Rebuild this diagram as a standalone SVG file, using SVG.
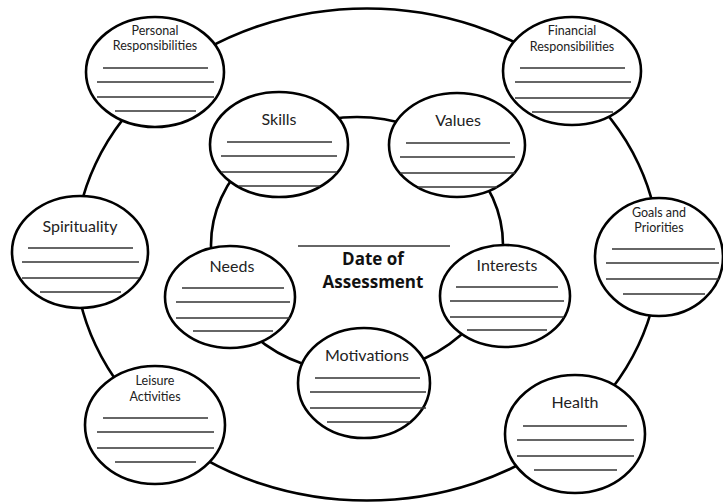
<svg xmlns="http://www.w3.org/2000/svg" width="723" height="503" viewBox="0 0 723 503">
<style>
.ring{fill:none;stroke:#000;stroke-width:2.6}
.node{fill:#fff;stroke:#000;stroke-width:2.6}
.ln{stroke:#333;stroke-width:1.5}
.t{font-family:Lato,"Open Sans",sans-serif;fill:#222;text-anchor:middle}
.big{font-size:16px}
.sm{font-size:12.5px}
.title{font-family:"Open Sans","Noto Sans",sans-serif;font-weight:bold;font-size:17px;fill:#111;text-anchor:middle}
</style>
<rect width="723" height="503" fill="#fff"/>
<g id="connectors">
<ellipse class="ring" cx="367" cy="254.5" rx="292" ry="246"/>
<ellipse class="ring" cx="357" cy="245" rx="146" ry="128"/>
</g>
<g id="personal">
<ellipse class="node" cx="155" cy="72" rx="69" ry="55"/>
<text class="t sm" x="155" y="35">Personal</text>
<text class="t sm" x="155" y="50">Responsibilities</text>
<line class="ln" x1="103" y1="68" x2="208" y2="68"/><line class="ln" x1="97" y1="82" x2="214" y2="82"/><line class="ln" x1="97" y1="97" x2="214" y2="97"/><line class="ln" x1="115" y1="111" x2="196" y2="111"/>
</g>
<g id="financial">
<ellipse class="node" cx="572" cy="71" rx="69" ry="54"/>
<text class="t sm" x="572" y="35">Financial</text>
<text class="t sm" x="572" y="51">Responsibilities</text>
<line class="ln" x1="520" y1="68" x2="625" y2="68"/><line class="ln" x1="515" y1="82" x2="631" y2="82"/><line class="ln" x1="515" y1="98" x2="631" y2="98"/><line class="ln" x1="532" y1="112" x2="613" y2="112"/>
</g>
<g id="goals">
<ellipse class="node" cx="659" cy="257" rx="64" ry="59"/>
<text class="t sm" x="659" y="217">Goals and</text>
<text class="t sm" x="659" y="232">Priorities</text>
<line class="ln" x1="612" y1="249" x2="715" y2="249"/><line class="ln" x1="606" y1="263" x2="719" y2="263"/><line class="ln" x1="606" y1="279" x2="719" y2="279"/><line class="ln" x1="623" y1="294" x2="705" y2="294"/>
</g>
<g id="spirituality">
<ellipse class="node" cx="80" cy="252" rx="68" ry="56"/>
<text class="t big" x="80" y="232">Spirituality</text>
<line class="ln" x1="28" y1="248" x2="133" y2="248"/><line class="ln" x1="22" y1="262" x2="139" y2="262"/><line class="ln" x1="22" y1="278" x2="139" y2="278"/><line class="ln" x1="40" y1="292" x2="121" y2="292"/>
</g>
<g id="leisure">
<ellipse class="node" cx="155" cy="425" rx="70" ry="59"/>
<text class="t sm" x="155" y="385">Leisure</text>
<text class="t sm" x="155" y="401">Activities</text>
<line class="ln" x1="103" y1="418" x2="208" y2="418"/><line class="ln" x1="97" y1="432" x2="214" y2="432"/><line class="ln" x1="97" y1="448" x2="214" y2="448"/><line class="ln" x1="115" y1="462" x2="196" y2="462"/>
</g>
<g id="health">
<ellipse class="node" cx="575" cy="434" rx="70" ry="59"/>
<text class="t big" x="575" y="408">Health</text>
<line class="ln" x1="523" y1="426" x2="627" y2="426"/><line class="ln" x1="517" y1="440" x2="634" y2="440"/><line class="ln" x1="517" y1="456" x2="634" y2="456"/><line class="ln" x1="534" y1="470" x2="617" y2="470"/>
</g>
<g id="skills">
<ellipse class="node" cx="279" cy="144.5" rx="69" ry="52.5"/>
<text class="t big" x="279" y="125">Skills</text>
<line class="ln" x1="227" y1="142" x2="332" y2="142"/><line class="ln" x1="221" y1="156" x2="337" y2="156"/><line class="ln" x1="221" y1="172" x2="337" y2="172"/><line class="ln" x1="239" y1="186" x2="320" y2="186"/>
</g>
<g id="values">
<ellipse class="node" cx="457" cy="145" rx="68" ry="52"/>
<text class="t big" x="458" y="126">Values</text>
<line class="ln" x1="406" y1="143" x2="510" y2="143"/><line class="ln" x1="400" y1="157" x2="515" y2="157"/><line class="ln" x1="400" y1="173" x2="515" y2="173"/><line class="ln" x1="418" y1="187" x2="497" y2="187"/>
</g>
<g id="needs">
<ellipse class="node" cx="230" cy="297" rx="65" ry="51"/>
<text class="t big" x="232" y="272">Needs</text>
<line class="ln" x1="182" y1="288" x2="284" y2="288"/><line class="ln" x1="176" y1="302" x2="290" y2="302"/><line class="ln" x1="176" y1="318" x2="290" y2="318"/><line class="ln" x1="193" y1="331" x2="273" y2="331"/>
</g>
<g id="interests">
<ellipse class="node" cx="505" cy="296" rx="65" ry="51"/>
<text class="t big" x="507" y="271">Interests</text>
<line class="ln" x1="456" y1="287" x2="558" y2="287"/><line class="ln" x1="450" y1="301" x2="564" y2="301"/><line class="ln" x1="450" y1="317" x2="564" y2="317"/><line class="ln" x1="467" y1="330" x2="547" y2="330"/>
</g>
<g id="motivations">
<ellipse class="node" cx="364" cy="383" rx="66" ry="55"/>
<text class="t big" x="367" y="361">Motivations</text>
<line class="ln" x1="315" y1="378" x2="420" y2="378"/><line class="ln" x1="310" y1="392" x2="426" y2="392"/><line class="ln" x1="310" y1="408" x2="426" y2="408"/><line class="ln" x1="327" y1="422" x2="410" y2="422"/>
</g>
<g id="date">
<line class="ln" x1="298" y1="246" x2="450" y2="246"/>
<text class="title" x="373" y="265">Date of</text>
<text class="title" x="373" y="288">Assessment</text>
</g>
</svg>
